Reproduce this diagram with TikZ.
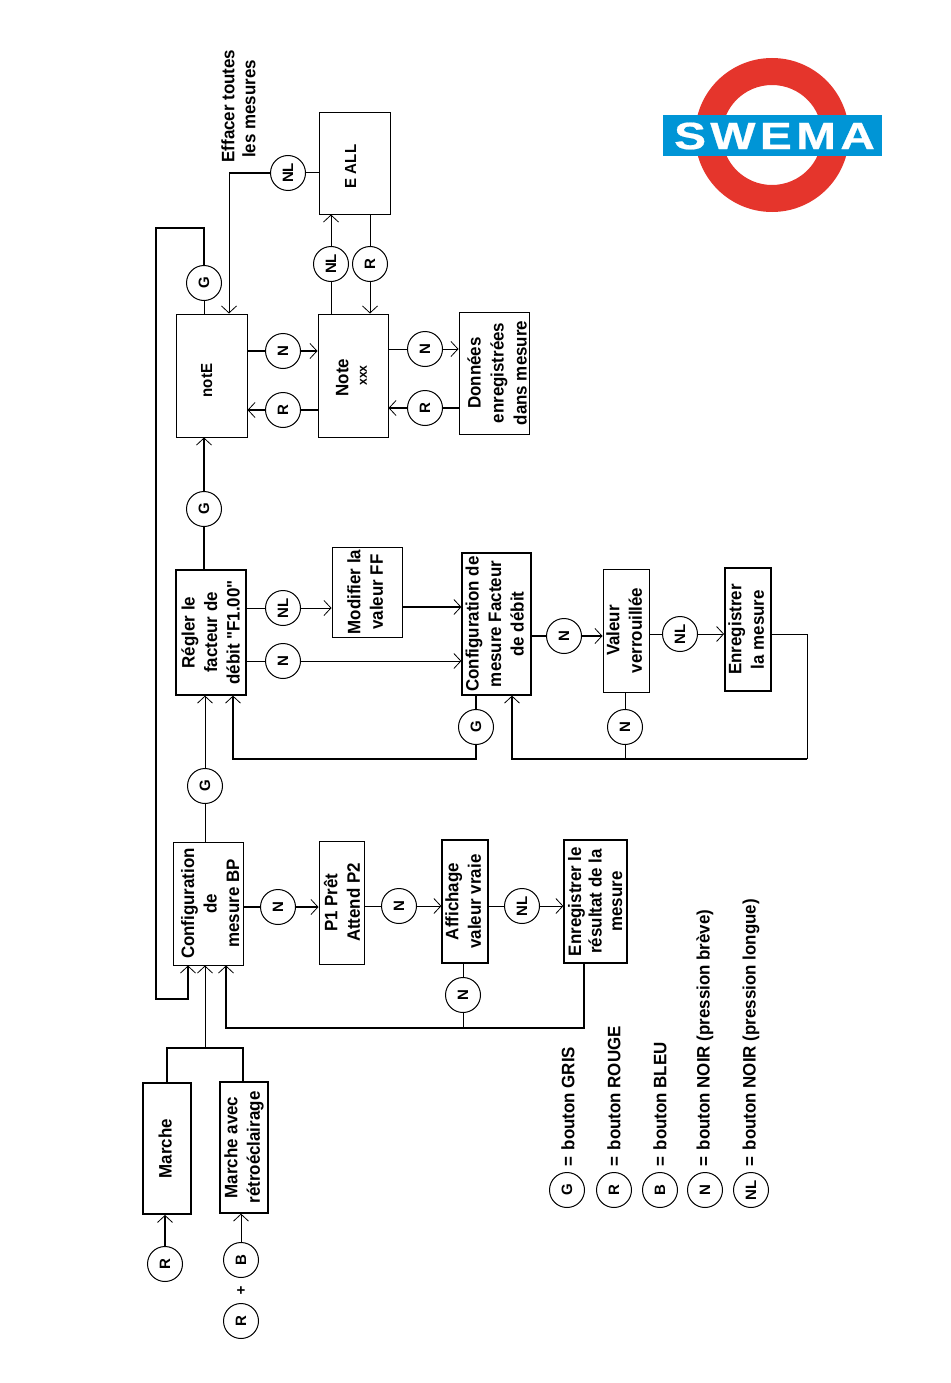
\documentclass[tikz,border=0pt]{standalone}
\usepackage{fontspec}
\usepackage{graphicx}
\usetikzlibrary{arrows.meta,calc}
\setmainfont{Liberation Sans}
\newfontfamily\lab[FakeStretch=0.94]{Liberation Sans Bold}
\newfontfamily\cirf{Liberation Sans Bold}
\newfontfamily\logof[LetterSpace=9,FakeBold=0.6]{Liberation Sans Bold}
\definecolor{swred}{RGB}{229,53,44}
\definecolor{swblue}{RGB}{0,149,214}
\newcommand{\rt}[1]{\rotatebox{90}{\begin{tabular}{@{}c@{}}#1\end{tabular}}}
\newcommand{\rts}[2]{\hspace*{#1pt}\rt{#2}\hspace*{-#1pt}}
\newcommand{\bx}[7][]{%
  \pgfmathsetmacro{\bxcx}{(#3+#5)/2}\pgfmathsetmacro{\bxcy}{(#4+#6)/2}%
  \pgfmathsetmacro{\bxw}{#5-#3}\pgfmathsetmacro{\bxh}{#6-#4}%
  \node[stbox,minimum width=\bxw pt,minimum height=\bxh pt,#1] (#2) at (\bxcx,\bxcy) {#7};}
\tikzset{
  thinl/.style={line width=1pt},
  tk/.style={line width=1.7pt},
  arr/.style={-{Straight Barb[length=7pt,width=15pt,line width=0.8pt]}},
  stbox/.style={draw,line width=1pt,fill=white,inner sep=0pt,font=\lab\fontsize{18}{22.5}\selectfont},
  btn/.style={draw,circle,line width=1pt,fill=white,inner sep=0pt,minimum size=35pt,font=\cirf\fontsize{15}{15}\selectfont,rotate=90},
  plain/.style={font=\lab\fontsize{18}{22.5}\selectfont,rotate=90,inner sep=0pt},
}
\begin{document}
\begin{tikzpicture}[x=1pt,y=-1pt]
\useasboundingbox (0,0) rectangle (950,1383);
\fill[white] (0,0) rectangle (950,1383);

% logo
\fill[swred,even odd rule] (772,135) circle (77) (772,135) circle (50);
\node[fill=swblue,minimum width=219pt,minimum height=41pt,inner sep=0pt] (logobar) at (772.5,135.5) {};
\node[text=white,font=\logof\fontsize{38}{38}\selectfont,xscale=1.26,inner sep=0pt] (logotxt) at (774.5,136) {SWEMA};

% boxes
\bx[line width=1.8pt]{marche}{143}{1083}{191}{1214}{\rt{Marche}}
\bx[line width=1.2pt]{mav}{220}{1082}{268}{1213}{\rt{Marche avec\\rétroéclairage}}
\bx{cfg}{173}{842}{243}{965}{\rts{4}{Configuration\\de\\mesure BP}}
\bx{pone}{319}{841}{364}{964}{\rts{2.5}{P1 Prêt\\Attend P2}}
\bx[line width=1.2pt]{aff}{442}{840}{488}{963}{\rt{Affichage\\valeur vraie}}
\bx[line width=1.2pt,font=\lab\fontsize{18}{20.5}\selectfont]{enr}{564}{840}{627}{963}{\rts{2}{Enregistrer le\\résultat de la\\mesure}}
\bx[line width=1.2pt]{reg}{176}{570}{246}{695}{\rts{1.5}{Régler le\\facteur de\\débit "F1.00"}}
\bx{mod}{332}{547}{402}{637}{\rt{Modifier la\\valeur FF}}
\bx[line width=1.2pt]{cff}{462}{553}{531}{695}{\rt{Configuration de\\mesure Facteur\\de débit}}
\bx{val}{603}{569}{649}{692}{\rt{Valeur\\verrouillée}}
\bx[line width=1.8pt]{enm}{725}{568}{771}{691}{\rt{Enregistrer\\la mesure}}
\bx{note}{176}{314}{247}{437}{\rts{-4}{\fontsize{16}{20}\selectfont\hspace*{-10pt}notE}}
\bx{nxx}{318}{314}{388}{437}{\rt{\hspace*{-4pt}Note\\[-4pt]{\fontsize{13}{13}\selectfont xxx}}}
\bx[font=\lab\fontsize{18}{23}\selectfont]{don}{459}{312}{529}{434}{\rts{5}{Données\\enregistrées\\dans mesure}}
\bx{eall}{319}{113}{390}{214}{\rts{-3}{\fontsize{16}{20}\selectfont\hspace*{-6pt}E ALL}}

% buttons
\node[btn] (rA) at (165,1264) {R};
\node[btn] (bB) at (241,1260) {B};
\node[font=\cirf\fontsize{15}{15}\selectfont,inner sep=0pt] (plus) at (241,1291) {+};
\node[btn] (rB) at (241,1321) {R};
\node[btn] (gA) at (205,786) {G};
\node[btn] (nA) at (278,907) {N};
\node[btn] (nB) at (399,906) {N};
\node[btn] (nlA) at (522,906) {NL};
\node[btn] (nC) at (463,995) {N};
\node[btn] (nlB) at (283,608) {NL};
\node[btn] (nD) at (283,661) {N};
\node[btn] (gB) at (476,727) {G};
\node[btn] (gC) at (204,509) {G};
\node[btn] (nE) at (564,636) {N};
\node[btn] (nlC) at (680,634) {NL};
\node[btn] (nF) at (625,727) {N};
\node[btn] (gD) at (204,283) {G};
\node[btn] (nG) at (283,351) {N};
\node[btn] (rC) at (283,410) {R};
\node[btn] (nH) at (425,349) {N};
\node[btn] (rD) at (425,408) {R};
\node[btn] (nlD) at (331,264) {NL};
\node[btn] (rE) at (370,264) {R};
\node[btn] (nlE) at (288,173) {NL};

% free corner points
\coordinate (busL) at (167,1048);
\coordinate (busM) at (205,1048);
\coordinate (busR) at (243,1048);
\coordinate (lpA) at (188,999);
\coordinate (lpB) at (156,999);
\coordinate (lpC) at (156,228);
\coordinate (lpD) at (204,228);
\coordinate (retA) at (226,1028);
\coordinate (retB) at (584,1028);
\coordinate (fbA) at (233,759);
\coordinate (fbB) at (476,759);
\coordinate (svA) at (807,634);
\coordinate (svB) at (807,759);
\coordinate (svC) at (512,759);
\coordinate (noA) at (229,173);
\coordinate (modout) at (402,607);

% connectors
\draw[tk,arr] (rA.east) -- (rA |- marche.south);
\draw[thinl,arr] (bB.east) -- (bB |- mav.south);
\draw[tk] (busL |- marche.north) -- (busL) -- (busR) -- (busR |- mav.north);
\draw[thinl,arr] (busM) -- (busM |- cfg.south);
\draw[tk,arr] (gD.east) -- (lpD) -- (lpC) -- (lpB) -- (lpA) -- (lpA |- cfg.south);
\draw[thinl] (gD |- note.north) -- (gD.west);
\draw[tk,arr] (gC.east) -- (gC |- note.south);
\draw[tk] (gC |- reg.north) -- (gC.west);
\draw[thinl] (gA |- cfg.north) -- (gA.west);
\draw[thinl,arr] (gA.east) -- (gA |- reg.south);
\draw[tk,arr] (retB |- enr.south) -- (retB) -- (retA) -- (retA |- cfg.south);
\draw[thinl] (nC |- aff.south) -- (nC.east);
\draw[thinl] (nC.west) -- (nC |- retA);
\draw[tk] (cfg.east |- nA) -- (nA.north);
\draw[tk,arr] (nA.south) -- (pone.west |- nA);
\draw[thinl] (pone.east |- nB) -- (nB.north);
\draw[thinl,arr] (nB.south) -- (aff.west |- nB);
\draw[thinl] (aff.east |- nlA) -- (nlA.north);
\draw[thinl,arr] (nlA.south) -- (enr.west |- nlA);
\draw[thinl] (reg.east |- nlB) -- (nlB.north);
\draw[thinl,arr] (nlB.south) -- (mod.west |- nlB);
\draw[tk,arr] (mod.east |- modout) -- (cff.west |- modout);
\draw[thinl] (reg.east |- nD) -- (nD.north);
\draw[thinl,arr] (nD.south) -- (cff.west |- nD);
\draw[tk] (gB |- cff.south) -- (gB.east);
\draw[tk,arr] (gB.west) -- (fbB) -- (fbA) -- (fbA |- reg.south);
\draw[tk] (cff.east |- nE) -- (nE.north);
\draw[tk,arr] (nE.south) -- (val.west |- nE);
\draw[thinl] (val.east |- nlC) -- (nlC.north);
\draw[thinl,arr] (nlC.south) -- (enm.west |- nlC);
\draw[thinl] (enm.east |- svA) -- (svA) -- (svB);
\draw[tk,arr] (svB) -- (svC) -- (svC |- cff.south);
\draw[thinl] (nF |- val.south) -- (nF.east);
\draw[thinl] (nF.west) -- (nF |- svB);
\draw[tk] (note.east |- nG) -- (nG.north);
\draw[tk,arr] (nG.south) -- (nxx.west |- nG);
\draw[tk] (nxx.west |- rC) -- (rC.south);
\draw[tk,arr] (rC.north) -- (note.east |- rC);
\draw[thinl] (nxx.east |- nH) -- (nH.north);
\draw[thinl,arr] (nH.south) -- (don.west |- nH);
\draw[tk] (don.west |- rD) -- (rD.south);
\draw[tk,arr] (rD.north) -- (nxx.east |- rD);
\draw[thinl] (nlD |- nxx.north) -- (nlD.west);
\draw[thinl,arr] (nlD.east) -- (nlD |- eall.south);
\draw[thinl] (rE |- eall.south) -- (rE.east);
\draw[thinl,arr] (rE.west) -- (rE |- nxx.north);
\draw[thinl] (eall.west |- nlE) -- (nlE.south);
\draw[tk] (nlE.north) -- (noA);
\draw[thinl,arr] (noA) -- (noA |- note.north);

% free text
\node[plain] (effa) at (228,106) {Effacer toutes};
\node[plain] (effb) at (249,109) {les mesures};

% legend
\node[btn] (lg) at (567,1190) {G};
\node[btn] (lr) at (614,1190) {R};
\node[btn] (lb) at (660,1190) {B};
\node[btn] (ln) at (705,1190) {N};
\node[btn] (lnl) at (751,1190) {NL};
\node[plain,anchor=west] (tg) at (568,1167) {=\hspace{2pt} bouton GRIS};
\node[plain,anchor=west] (tr) at (614,1167) {=\hspace{2pt} bouton  ROUGE};
\node[plain,anchor=west] (tb) at (660,1167) {=\hspace{2pt} bouton BLEU};
\node[plain,anchor=west] (tn) at (705,1167) {=\hspace{2pt} bouton NOIR (pression brève)};
\node[plain,anchor=west] (tnl) at (751,1167) {=\hspace{2pt} bouton NOIR (pression longue)};
\end{tikzpicture}
\end{document}
